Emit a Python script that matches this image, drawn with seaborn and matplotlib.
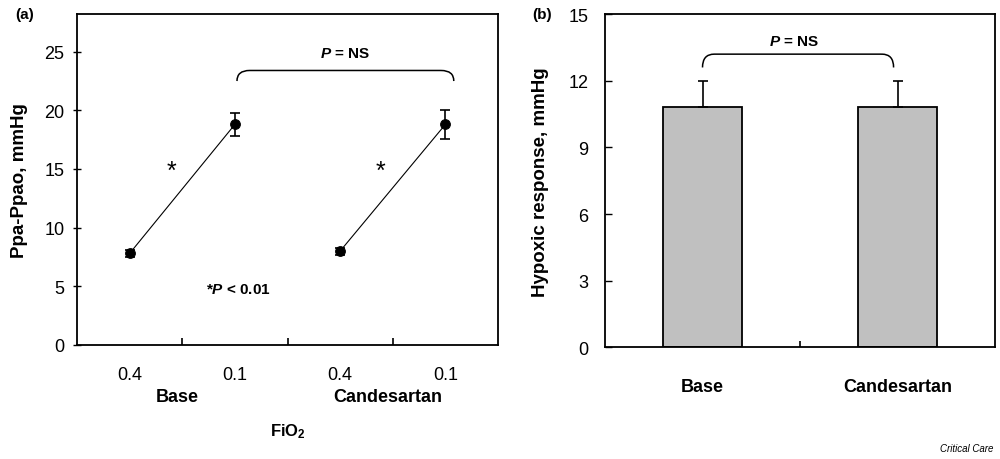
import numpy as np
import pandas as pd
import matplotlib
matplotlib.use('Agg')
import matplotlib.pyplot as plt
from matplotlib.path import Path
from matplotlib.patches import PathPatch
import seaborn as sns

sns.set_style('white')
plt.rcParams['font.family'] = ['Liberation Sans', 'DejaVu Sans']
plt.rcParams.update({
    'text.color': 'black', 'axes.labelcolor': 'black',
    'xtick.color': 'black', 'ytick.color': 'black',
    'mathtext.fontset': 'custom',
    'mathtext.rm': 'Liberation Sans',
    'mathtext.it': 'Liberation Sans:italic',
    'mathtext.bf': 'Liberation Sans:bold',
    'mathtext.bfit': 'Liberation Sans:italic:bold',
})

# panel (a): Ppa-Ppao at two FiO2 levels per condition
fio2_labels = ['0.4', '0.1', '0.4', '0.1']
groups_a = ['Base', 'Base', 'Candesartan', 'Candesartan']
ppa_mean = [7.8, 18.8, 8.0, 18.8]
ppa_err = [0.3, 1.0, 0.3, 1.2]

# panel (b): hypoxic response
groups_b = ['Base', 'Candesartan']
resp_mean = [10.8, 10.8]
resp_err = [1.2, 1.2]

df_a = pd.DataFrame({'pos': np.arange(len(fio2_labels)), 'fio2': fio2_labels,
                     'group': groups_a, 'mean': ppa_mean, 'err': ppa_err})
df_b = pd.DataFrame({'group': groups_b, 'mean': resp_mean, 'err': resp_err})


def brace(ax, x1, x2, y_low, y_top, dx):
    verts = [(x1, y_low), (x1, y_top), (x1 + dx, y_top),
             (x2 - dx, y_top),
             (x2 - dx, y_top), (x2, y_top), (x2, y_low)]
    codes = [Path.MOVETO, Path.CURVE3, Path.CURVE3, Path.LINETO,
             Path.MOVETO, Path.CURVE3, Path.CURVE3]
    ax.add_patch(PathPatch(Path(verts, codes), fill=False, lw=1.1, color='black'))


fig = plt.figure(figsize=(10, 4.6), dpi=100)
ax1 = fig.add_axes([0.077, 0.248, 0.421, 0.719])
ax2 = fig.add_axes([0.605, 0.243, 0.390, 0.724])

# ---- (a)
sns.lineplot(data=df_a, x='pos', y='mean', units='group', estimator=None,
             color='black', lw=0.8, marker='o', markersize=7,
             markeredgecolor='black', ax=ax1, legend=False)
ax1.errorbar(df_a['pos'], df_a['mean'], yerr=df_a['err'], fmt='none',
             ecolor='black', elinewidth=1.2, capsize=3.5, capthick=1.2)
ax1.set_xlim(-0.5, len(fio2_labels) - 0.5)
ax1.set_ylim(0, 28.2)
ax1.set_yticks(range(0, 30, 5))
ax1.set_xticks(np.arange(0.5, len(fio2_labels) - 1, 1.0))
ax1.set_xticklabels([])
ax1.tick_params(axis='x', bottom=True, direction='in', length=5, width=1.2)
ax1.tick_params(axis='y', left=True, direction='inout', length=6, width=1,
                labelsize=13, pad=6)
for p, lab in zip(df_a['pos'], df_a['fio2']):
    ax1.text(p, -2.5, lab, ha='center', va='center', fontsize=13)
for g in ['Base', 'Candesartan']:
    c = df_a.loc[df_a['group'] == g, 'pos'].mean()
    ax1.text(c - 0.05, -4.4, g, ha='center', va='center', fontsize=13,
             fontweight='bold')
ax1.text(1.5, -7.3, 'FiO$_\\mathbf{2}$', ha='center', va='center', fontsize=12,
         fontweight='bold')
ax1.set_xlabel('')
ax1.set_ylabel('Ppa-Ppao, mmHg', fontsize=13.5, fontweight='bold', labelpad=12)
for sp in ax1.spines.values():
    sp.set_color('black')
    sp.set_linewidth(1.3)
brace(ax1, 1.02, 3.08, 22.5, 23.4, 0.12)
ax1.text(2.05, 24.9, '$\\mathbfit{P}$ = NS', ha='center', va='center',
         fontsize=11, fontweight='bold')
ax1.text(0.4, 14.8, '*', ha='center', va='center', fontsize=18)
ax1.text(2.38, 14.8, '*', ha='center', va='center', fontsize=18)
ax1.text(1.03, 4.8, '*$\\mathbfit{P}$ < 0.01', ha='center', va='center',
         fontsize=11, fontweight='bold')
fig.text(0.025, 0.967, '(a)', ha='center', va='center', fontsize=11,
         fontweight='bold')

# ---- (b)
sns.barplot(data=df_b, x='group', y='mean', color='#c0c0c0', edgecolor='black',
            linewidth=1.3, width=0.405, saturation=1, errorbar=None, ax=ax2)
ax2.errorbar(np.arange(len(groups_b)), df_b['mean'],
             yerr=[np.zeros(len(groups_b)), df_b['err']], fmt='none',
             ecolor='black', elinewidth=1.2, capsize=3.5, capthick=1.2)
ax2.set_xlim(-0.5, len(groups_b) - 0.5)
ax2.set_ylim(0, 15)
ax2.set_yticks(range(0, 16, 3))
ax2.set_xticks([0.5], minor=True)
ax2.set_xticks(range(len(groups_b)))
ax2.set_xticklabels(groups_b, fontsize=13, fontweight='bold')
ax2.tick_params(axis='x', which='major', bottom=False, length=0, pad=22)
ax2.tick_params(axis='x', which='minor', bottom=True, direction='in', length=4,
                width=1.2)
ax2.tick_params(axis='y', left=True, direction='in', length=5, width=1,
                labelsize=13, pad=12)
ax2.set_xlabel('')
ax2.set_ylabel('Hypoxic response, mmHg', fontsize=13.5, fontweight='bold',
               labelpad=14)
for sp in ax2.spines.values():
    sp.set_color('black')
    sp.set_linewidth(1.3)
brace(ax2, 0.0, 0.98, 12.6, 13.2, 0.06)
ax2.text(0.47, 13.8, '$\\mathbfit{P}$ = NS', ha='center', va='center',
         fontsize=11, fontweight='bold')
fig.text(0.542, 0.967, '(b)', ha='center', va='center', fontsize=11,
         fontweight='bold')

fig.text(0.993, 0.012, 'Critical Care', ha='right', va='bottom', fontsize=7,
         style='italic')

fig.savefig('out.png', dpi=100)
